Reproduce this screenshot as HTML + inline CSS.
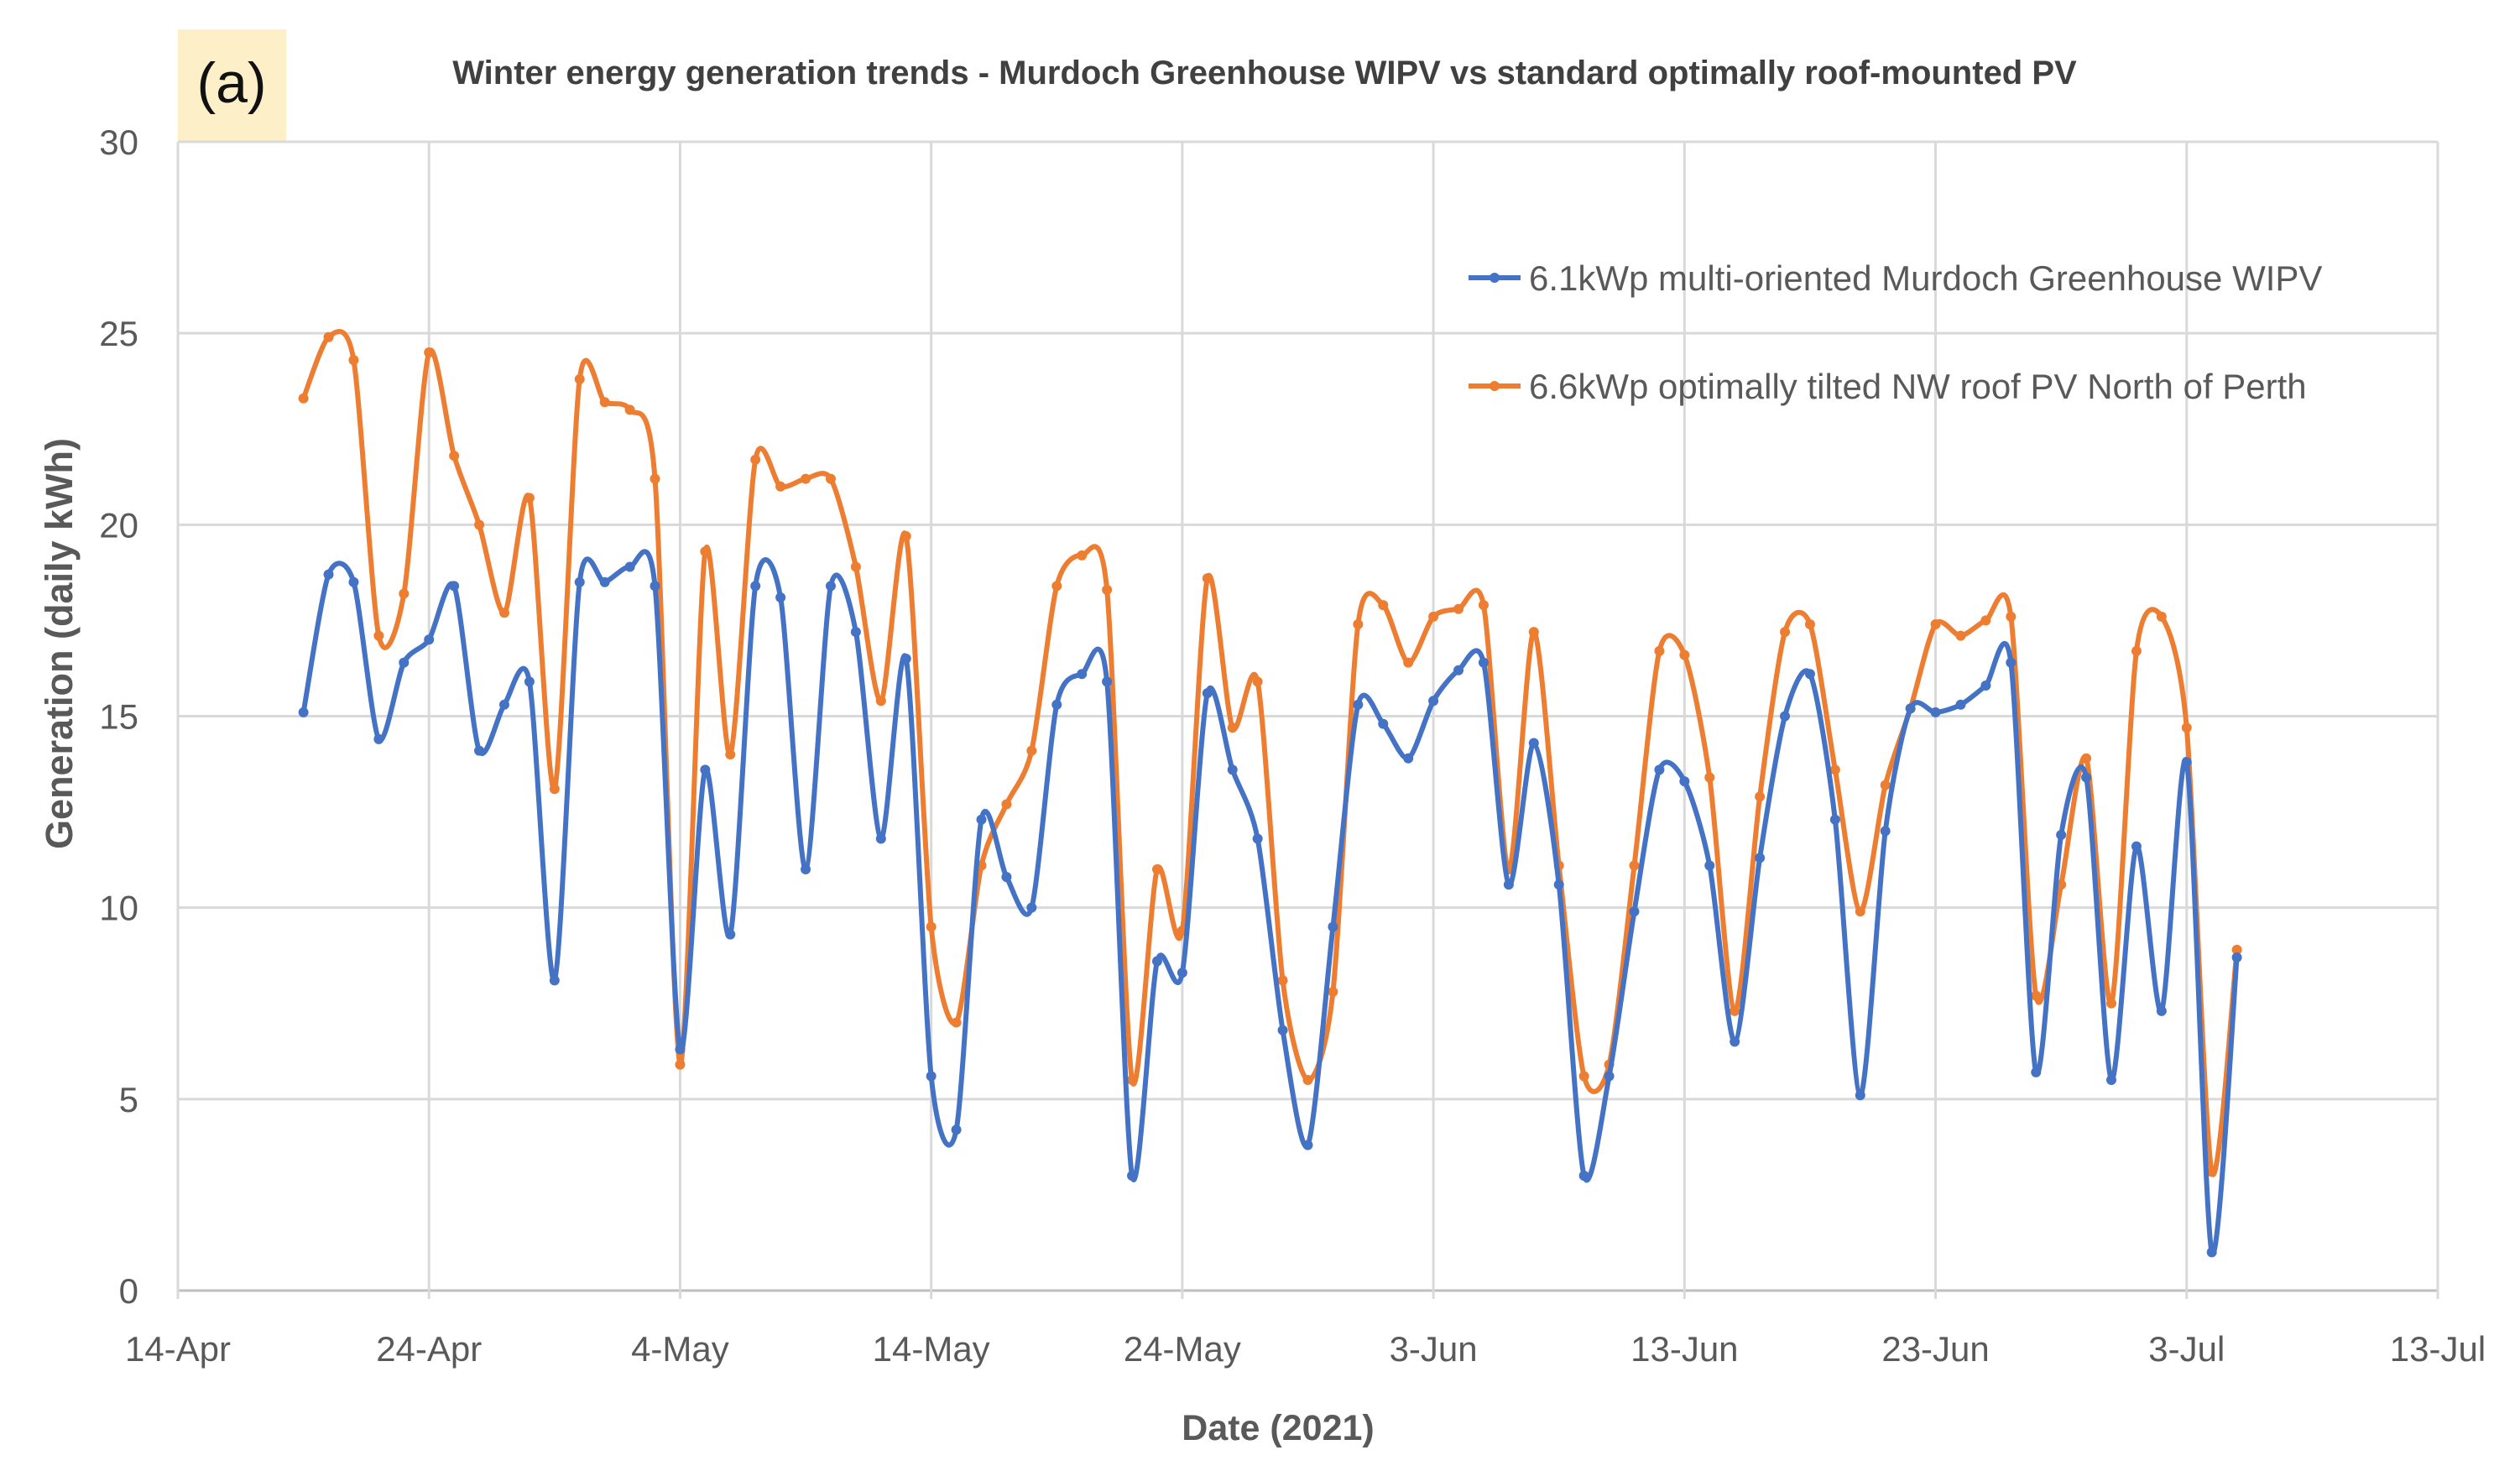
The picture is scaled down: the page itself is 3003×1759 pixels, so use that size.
<!DOCTYPE html>
<html><head><meta charset="utf-8"><style>
html,body{margin:0;padding:0;background:#fff;}
svg{display:block;font-family:"Liberation Sans",Arial,sans-serif;}
</style></head><body>
<svg id="chart" width="3003" height="1759" viewBox="0 0 3003 1759">
<rect x="0" y="0" width="3003" height="1759" fill="#fff"/>
<rect x="212" y="35" width="129" height="134" fill="#fdf0c8"/>
<text x="276" y="122" font-size="68" text-anchor="middle" fill="#111">(a)</text>
<text x="1507" y="100" font-size="40" font-weight="bold" text-anchor="middle" fill="#404040">Winter energy generation trends - Murdoch Greenhouse WIPV vs standard optimally roof-mounted  PV</text>
<g id="grid"></g>
<g id="axes"></g>
<g id="series"></g>
<text transform="translate(86,767) rotate(-90)" font-size="45" font-weight="bold" text-anchor="middle" fill="#595959">Generation (daily kWh)</text>
<text x="1523" y="1716" font-size="43" font-weight="bold" text-anchor="middle" fill="#595959">Date (2021)</text>
<g>
<g>
<line x1="1750" y1="331" x2="1812" y2="331" stroke="#4472c4" stroke-width="6"/>
<circle cx="1781" cy="331" r="6" fill="#4472c4"/>
<text x="1822" y="346" font-size="42" fill="#595959">6.1kWp multi-oriented Murdoch Greenhouse WIPV</text>
</g>
<g>
<line x1="1750" y1="460" x2="1812" y2="460" stroke="#ed7d31" stroke-width="6"/>
<circle cx="1781" cy="460" r="6" fill="#ed7d31"/>
<text x="1822" y="475" font-size="42" fill="#595959">6.6kWp optimally tilted NW roof PV North of Perth</text>
</g>
</g>
</svg>
<script>
const xTickLabels = ["14-Apr","24-Apr","4-May","14-May","24-May","3-Jun","13-Jun","23-Jun","3-Jul","13-Jul"];
const yTicks = [0,5,10,15,20,25,30];
const startDay = 5; // days after 14-Apr (19-Apr)
const wipv = [15.1,18.7,18.5,14.4,16.4,17.0,18.4,14.1,15.3,15.9,8.1,18.5,18.5,18.9,18.4,6.3,13.6,9.3,18.4,18.1,11.0,18.4,17.2,11.8,16.5,5.6,4.2,12.3,10.8,10.0,15.3,16.1,15.9,3.0,8.6,8.3,15.6,13.6,11.8,6.8,3.8,9.5,15.3,14.8,13.9,15.4,16.2,16.4,10.6,14.3,10.6,3.0,5.6,9.9,13.6,13.3,11.1,6.5,11.3,15.0,16.1,12.3,5.1,12.0,15.2,15.1,15.3,15.8,16.4,5.7,11.9,13.4,5.5,11.6,7.3,13.8,1.0,8.7];
const roofPv = [23.3,24.9,24.3,17.1,18.2,24.5,21.8,20.0,17.7,20.7,13.1,23.8,23.2,23.0,21.2,5.9,19.3,14.0,21.7,21.0,21.2,21.2,18.9,15.4,19.7,9.5,7.0,11.1,12.7,14.1,18.4,19.2,18.3,5.5,11.0,9.4,18.6,14.7,15.9,8.1,5.5,7.8,17.4,17.9,16.4,17.6,17.8,17.9,11.0,17.2,11.1,5.6,5.9,11.1,16.7,16.6,13.4,7.3,12.9,17.2,17.4,13.6,9.9,13.2,15.2,17.4,17.1,17.5,17.6,7.7,10.6,13.9,7.5,16.7,17.6,14.7,3.1,8.9];

const NS='http://www.w3.org/2000/svg';
const L=212,R=2905,T=169,B=1538,DAYS=90,YMAX=30;
const xs=d=>L+(R-L)*d/DAYS;
const ys=v=>B-(B-T)*v/YMAX;
function mk(tag,attrs,parent){const e=document.createElementNS(NS,tag);for(const k in attrs)e.setAttribute(k,attrs[k]);parent.appendChild(e);return e;}
const grid=document.getElementById('grid'),axes=document.getElementById('axes'),ser=document.getElementById('series');
yTicks.forEach(v=>{
  const ln=mk('line',{x1:L,x2:R,y1:ys(v),y2:ys(v),stroke:v===0?'#bfbfbf':'#d9d9d9','stroke-width':3},grid);
  
  
  const t=mk('text',{x:165,y:ys(v)+15,'font-size':42,'text-anchor':'end',fill:'#595959'},axes);
  t.textContent=v;
  
  
});
xTickLabels.forEach((lab,i)=>{
  const x=xs(i*10);
  const ln=mk('line',{x1:x,x2:x,y1:T,y2:B+10,stroke:'#d9d9d9','stroke-width':3},grid);
  
  
  const t=mk('text',{x:x,y:1622,'font-size':42,'text-anchor':'middle',fill:'#595959'},axes);
  t.textContent=lab;
  
  
});
function smoothPath(pts){
  let d='M'+pts[0][0]+','+pts[0][1];
  for(let i=0;i<pts.length-1;i++){
    const p0=pts[Math.max(i-1,0)],p1=pts[i],p2=pts[i+1],p3=pts[Math.min(i+2,pts.length-1)];
    const t=0.4/3;
    const c1=[p1[0]+(p2[0]-p0[0])*t,p1[1]+(p2[1]-p0[1])*t];
    const c2=[p2[0]-(p3[0]-p1[0])*t,p2[1]-(p3[1]-p1[1])*t];
    d+=` C${c1[0]},${c1[1]} ${c2[0]},${c2[1]} ${p2[0]},${p2[1]}`;
  }
  return d;
}
function drawSeries(vals,color,name){
  const pts=vals.map((v,i)=>[xs(startDay+i),ys(v)]);
  const p=mk('path',{d:smoothPath(pts),fill:'none',stroke:color,'stroke-width':6,'stroke-linejoin':'round'},ser);
  
  
  pts.forEach(pt=>{
    const c=mk('circle',{cx:pt[0],cy:pt[1],r:6,fill:color},ser);
    
    
  });
}
drawSeries(roofPv,'#ed7d31','roof-pv');
drawSeries(wipv,'#4472c4','wipv');
</script>
</body></html>
